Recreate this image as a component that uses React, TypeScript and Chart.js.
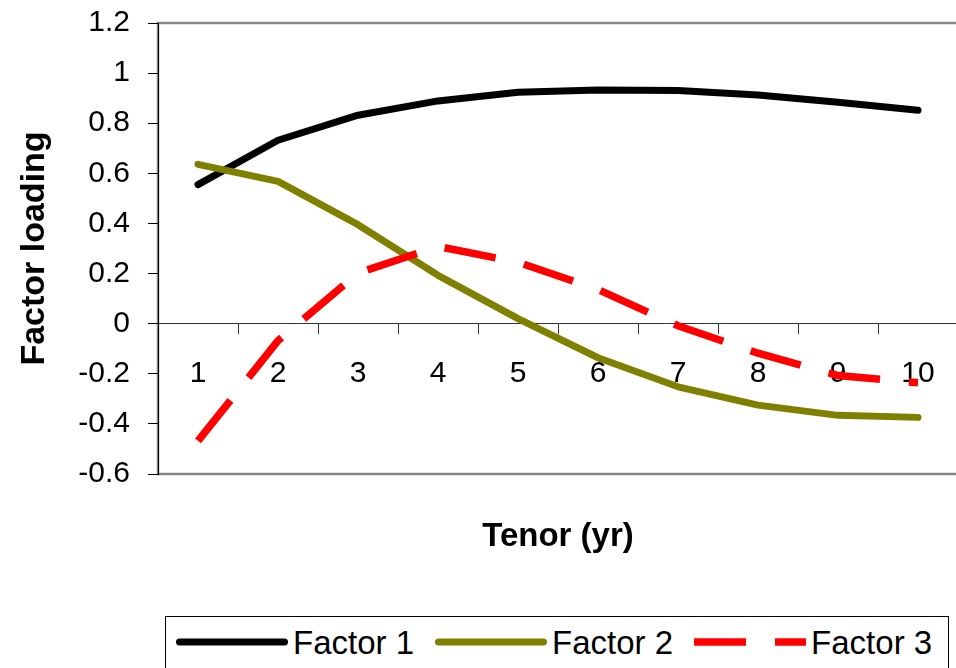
import React, { useEffect, useRef } from "react";
import { Chart, registerables } from "chart.js";

Chart.register(...registerables);

// Tenor buckets (years) along the category axis
const tenors = ["1", "2", "3", "4", "5", "6", "7", "8", "9", "10"];

// Loadings of each principal factor per tenor
const factor1 = [0.555, 0.732, 0.832, 0.889, 0.924, 0.933, 0.931, 0.913, 0.884, 0.852];
const factor2 = [0.636, 0.568, 0.395, 0.193, 0.02, -0.136, -0.252, -0.325, -0.366, -0.374];
const factor3 = [-0.468, -0.068, 0.202, 0.308, 0.245, 0.136, -0.008, -0.118, -0.207, -0.236];

// Value-axis ticks
const yTickValues = [-0.6, -0.4, -0.2, 0, 0.2, 0.4, 0.6, 0.8, 1, 1.2];

const seriesNames = ["Factor 1", "Factor 2", "Factor 3"];
const seriesData = [factor1, factor2, factor3];
const seriesColors = ["#000000", "#808000", "#ff0000"];
const seriesWidths = [7, 7, 7.5];
const seriesDash: number[][] = [[], [], [52, 29]];

const FONT = "'Liberation Sans', Arial, Helvetica, sans-serif";

// Grey frame around the plot area, painted before the axes
const plotFrame = {
  id: "plotFrame",
  beforeDraw(chart: any) {
    const { ctx, chartArea: a } = chart;
    ctx.save();
    ctx.strokeStyle = "#878787";
    ctx.lineWidth = 2.5;
    ctx.strokeRect(a.left, a.top, a.right - a.left, a.bottom - a.top);
    ctx.restore();
  },
};

function LegendSample({ index }: { index: number }) {
  const w = seriesWidths[index];
  const dashed = seriesDash[index].length > 0;
  const inset = dashed ? 0 : w / 2;
  return (
    <svg width={112} height={16} style={{ display: "block", flex: "none" }}>
      <line
        x1={inset}
        y1={8}
        x2={112 - inset}
        y2={8}
        stroke={seriesColors[index]}
        strokeWidth={w}
        strokeLinecap={dashed ? "butt" : "round"}
        strokeDasharray={dashed ? seriesDash[index].join(" ") : undefined}
      />
    </svg>
  );
}

export default function App() {
  const canvasRef = useRef<HTMLCanvasElement | null>(null);

  useEffect(() => {
    if (!canvasRef.current) return;
    const chart = new Chart(canvasRef.current, {
      type: "line",
      data: {
        labels: tenors,
        datasets: seriesNames.map((name, i) => ({
          label: name,
          data: seriesData[i],
          borderColor: seriesColors[i],
          backgroundColor: seriesColors[i],
          borderWidth: seriesWidths[i],
          borderDash: seriesDash[i],
          borderCapStyle: seriesDash[i].length ? "butt" : "round",
          borderJoinStyle: "round",
          pointRadius: 0,
          pointHoverRadius: 0,
          tension: 0,
          fill: false,
          order: seriesNames.length - i,
        })),
      },
      options: {
        responsive: false,
        animation: false,
        devicePixelRatio: 1,
        layout: { padding: { left: 0, right: 2, top: 23, bottom: 194 } },
        plugins: {
          legend: { display: false },
          tooltip: { enabled: false },
        },
        scales: {
          x: {
            type: "category",
            position: { y: 0 } as any,
            offset: true,
            grid: {
              offset: true,
              drawOnChartArea: false,
              drawTicks: true,
              tickLength: 10,
              color: "#333333",
              lineWidth: 1,
            },
            border: { display: true, color: "#333333", width: 1 },
            ticks: {
              color: "#000000",
              font: { size: 30, family: FONT },
              padding: 22,
              maxRotation: 0,
              autoSkip: false,
            },
            title: {
              display: true,
              text: "Tenor (yr)",
              color: "#000000",
              font: { size: 33, weight: "bold", family: FONT },
              padding: 0,
            },
            afterFit(scale: any) {
              scale.height = 233;
              scale.paddingLeft = 0;
              scale.paddingRight = 0;
            },
          },
          y: {
            min: -0.6,
            max: 1.2,
            afterBuildTicks(scale: any) {
              scale.ticks = yTickValues.map((v) => ({ value: v }));
            },
            grid: {
              drawOnChartArea: false,
              drawTicks: true,
              tickLength: 10,
              color: "#000000",
              lineWidth: 1,
            },
            border: { display: true, color: "#000000", width: 1 },
            ticks: {
              color: "#000000",
              font: { size: 30, family: FONT },
              padding: 18,
              callback: (v: any) => String(Math.round(Number(v) * 10) / 10),
            },
            title: {
              display: true,
              text: "Factor loading",
              color: "#000000",
              font: { size: 34, weight: "bold", family: FONT },
              padding: { top: 14, bottom: 0 },
            },
            afterFit(scale: any) {
              scale.width = 158;
              scale.paddingTop = 0;
              scale.paddingBottom = 0;
            },
          },
        },
      } as any,
      plugins: [plotFrame],
    });
    return () => chart.destroy();
  }, []);

  return (
    <div
      style={{
        position: "fixed",
        left: 0,
        top: 0,
        width: 956,
        height: 668,
        overflow: "hidden",
        background: "#ffffff",
      }}
    >
      <canvas
        ref={canvasRef}
        width={960}
        height={668}
        style={{ position: "absolute", left: 0, top: 0, width: 960, height: 668 }}
      />
      <div
        style={{
          position: "absolute",
          left: 165,
          top: 616,
          width: 784,
          height: 80,
          boxSizing: "border-box",
          border: "1px solid #000000",
          background: "#ffffff",
        }}
      >
        <div
          style={{
            position: "absolute",
            left: 10,
            top: 7,
            height: 38,
            display: "flex",
            alignItems: "center",
            whiteSpace: "nowrap",
            fontFamily: FONT,
            fontSize: 33,
            lineHeight: "38px",
            color: "#000000",
          }}
        >
          {seriesNames.map((name, i) => (
            <div
              key={name}
              style={{ display: "flex", alignItems: "center", marginRight: 21 }}
            >
              <div style={{ marginTop: -3 }}>
                <LegendSample index={i} />
              </div>
              <span style={{ marginLeft: 5 }}>{name}</span>
            </div>
          ))}
        </div>
      </div>
    </div>
  );
}
